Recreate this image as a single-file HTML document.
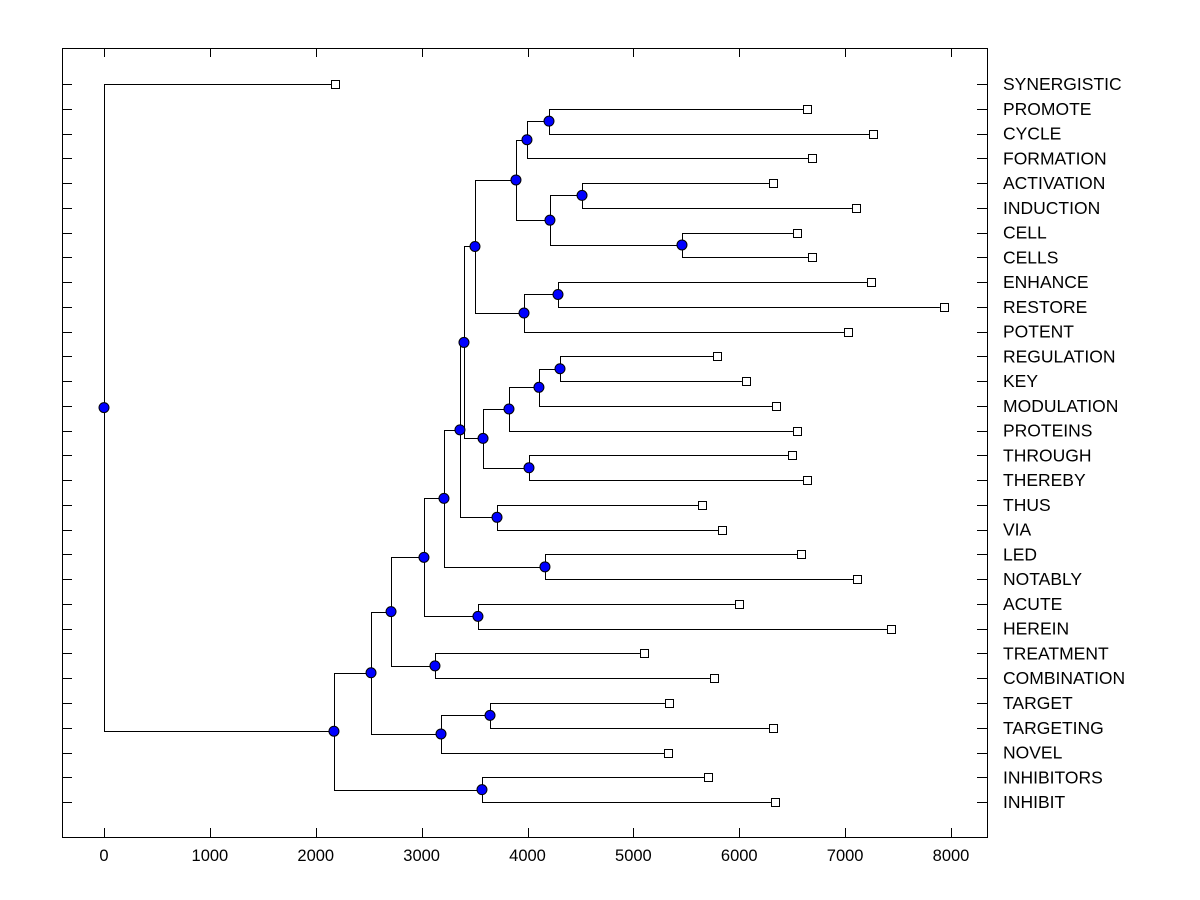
<!DOCTYPE html>
<html><head><meta charset="utf-8"><style>
html,body{margin:0;padding:0;background:#fff;}
svg{display:block;font-family:"Liberation Sans",Arial,sans-serif;}
</style></head><body>
<svg id="chart" width="1200" height="900"></svg>
<script>
const leafNames = ["SYNERGISTIC","PROMOTE","CYCLE","FORMATION","ACTIVATION","INDUCTION","CELL","CELLS","ENHANCE","RESTORE","POTENT","REGULATION","KEY","MODULATION","PROTEINS","THROUGH","THEREBY","THUS","VIA","LED","NOTABLY","ACUTE","HEREIN","TREATMENT","COMBINATION","TARGET","TARGETING","NOVEL","INHIBITORS","INHIBIT"];
const leafHeights = [2182,6640,7263,6687,6318,7102,6545,6687,7244,7933,7027,5790,6063,6347,6545,6498,6640,5648,5837,6583,7112,5997,7433,5100,5761,5336,6318,5327,5705,6337];
// merges: children refer to leaf index (number) or earlier node id "nK"
const mergeLeft  = [1,"n0",6,4,"n3","n1",8,"n6","n5",11,"n9","n10",15,"n11","n8",17,"n14",19,"n16",21,"n18",23,"n20",25,"n23","n22",28,"n25",0];
const mergeRight = [2,3,7,5,"n2","n4",9,10,"n7",12,13,14,16,"n12","n13",18,"n15",20,"n17",22,"n19",24,"n21",26,27,"n24",29,"n26","n27"];
const mergeHeights = [4203,3995,5459,4515,4212,3891,4288,3967,3504,4307,4108,3825,4014,3580,3400,3712,3362,4165,3211,3532,3022,3126,2711,3646,3183,2522,3570,2172,0];
const xTicks = [0,1000,2000,3000,4000,5000,6000,7000,8000];

const svg = document.getElementById('chart');
const NS = "http://www.w3.org/2000/svg";
const L=62,R=987,T=48,B=837;
const xS = v => 104 + v*0.105875;
const yS = i => 84 + i*24.76;
function mk(tag, attrs){const e=document.createElementNS(NS,tag);for(const k in attrs)e.setAttribute(k,attrs[k]);svg.appendChild(e);return e;}

const frame = mk('rect',{x:L+0.5,y:T+0.5,width:R-L,height:B-T,fill:'none',stroke:'#000','stroke-width':1});



xTicks.forEach(v=>{
  const x=Math.round(xS(v))+0.5;
  const t1=mk('line',{x1:x,x2:x,y1:B,y2:B-9,stroke:'#000'});
  
  
  const t2=mk('line',{x1:x,x2:x,y1:T,y2:T+9,stroke:'#000'});
  
  
  const lb=mk('text',{x:xS(v),y:861,'text-anchor':'middle','font-size':16.5,fill:'#000'});
  lb.textContent=v;
  
  
});

leafNames.forEach((n,i)=>{
  const y=Math.round(yS(i))+0.5;
  const a=mk('line',{x1:L,x2:L+10,y1:y,y2:y,stroke:'#000'});
  
  
  const b=mk('line',{x1:R-10,x2:R,y1:y,y2:y,stroke:'#000'});
  
  
  const t=mk('text',{x:1003,y:yS(i)+6,'font-size':17.5,fill:'#000'});
  t.textContent=n;
  
  
});

const pos = {};
leafNames.forEach((n,i)=>{pos[i]={x:xS(leafHeights[i]),y:yS(i),leaf:true};});
const nodes=[];
mergeHeights.forEach((h,k)=>{
  const a=pos[mergeLeft[k]], b=pos[mergeRight[k]];
  if(!a||!b) return;
  const x=xS(h), y=(a.y+b.y)/2;
  pos["n"+k]={x,y};
  const ax=a.leaf?a.x-4:a.x, bx=b.leaf?b.x-4:b.x;
  const p=mk('path',{d:`M${ax},${Math.round(a.y)+0.5}H${Math.round(x)+0.5}V${Math.round(b.y)+0.5}H${bx}`,fill:'none',stroke:'#000','stroke-width':1});
  
  
  nodes.push({x,y});
});
nodes.forEach(n=>{
  const c=mk('circle',{cx:n.x,cy:n.y,r:5,fill:'#0000ff',stroke:'#000','stroke-width':1});
  
  
});
leafNames.forEach((n,i)=>{
  const r=mk('rect',{x:Math.round(pos[i].x-4)+0.5,y:Math.round(pos[i].y)-3.5,width:8,height:8,fill:'#fff',stroke:'#000','stroke-width':1});
  
  
});
</script>
</body></html>
